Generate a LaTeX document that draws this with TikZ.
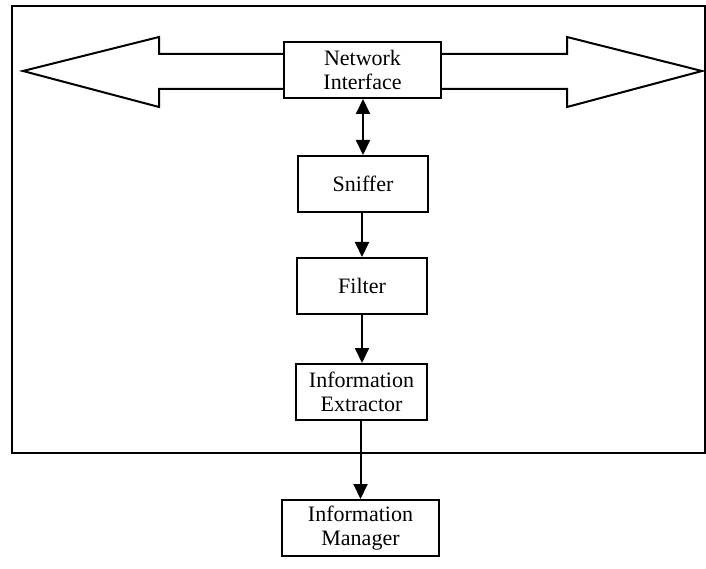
\documentclass[tikz,border=0pt]{standalone}
\usepackage{fontspec}
\setmainfont{Liberation Serif}
\usepackage{tikz}
\usetikzlibrary{arrows.meta}
\tikzstyle{blockbox}=[rectangle,draw=black,line width=1pt,fill=white,
                      align=center,inner sep=0pt,minimum height=28pt,
                      font=\fontsize{11}{12}\selectfont]
\tikzstyle{flow}=[line width=1pt,-{Triangle[length=7.5pt,width=7pt]}]

\begin{document}
\begin{tikzpicture}[x=0.5pt,y=0.5pt]
    \useasboundingbox (0,0) rectangle (706,568);
    % outer frame
    \draw[line width=1pt] (12,115) rectangle (705,562);
    \node (ni) at (362.5,498) [blockbox,minimum width=78.5pt]{Network\\Interface};
    \node (sn) at (363,384) [blockbox,minimum width=65pt]{Sniffer};
    \node (fi) at (362,282) [blockbox,minimum width=65pt]{Filter};
    \node (ie) at (361.5,176) [blockbox,minimum width=65.5pt]{Information\\Extractor};
    \node (im) at (360.5,40) [blockbox,minimum width=78.5pt]{Information\\Manager};
    % big arrows on both sides
    \draw[line width=1pt] (ni.west |- 0,514) -- (159,514) -- (159,531) -- (23,497)
        -- (159,461) -- (159,479) -- (ni.west |- 0,479);
    \draw[line width=1pt] (ni.east |- 0,514) -- (567,514) -- (567,531) -- (702,497)
        -- (567,461) -- (567,479) -- (ni.east |- 0,479);
    \draw[line width=1pt,{Triangle[length=7.5pt,width=7pt]}-{Triangle[length=7.5pt,width=7pt]}]
        (sn.north) -- (sn.north |- ni.south);
    \draw[flow] (sn.south -| fi) -- (fi.north);
    \draw[flow] (fi.south) -- (fi.south |- ie.north);
    \draw[flow] (ie.south -| im) -- (im.north);
  \end{tikzpicture}
\end{document}
